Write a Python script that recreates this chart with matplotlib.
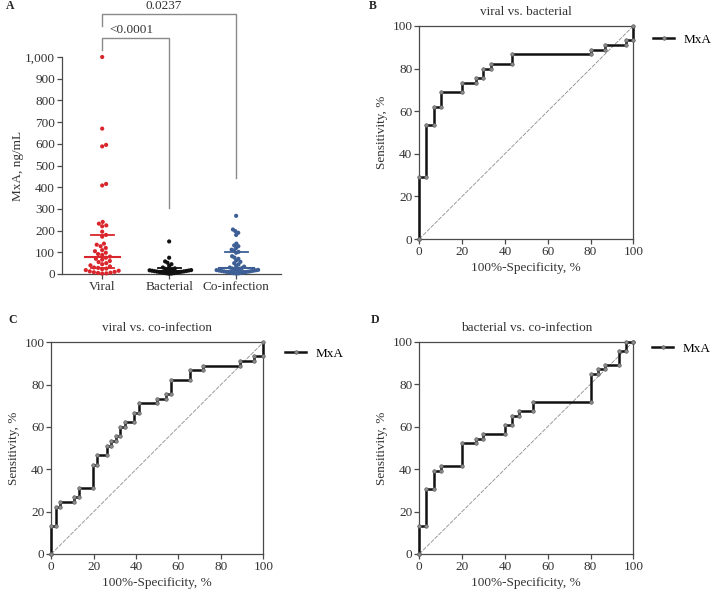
import numpy as np
import matplotlib
matplotlib.use("Agg")
import matplotlib.pyplot as plt
from matplotlib.ticker import FuncFormatter

plt.rcParams["font.family"] = ["Liberation Serif", "DejaVu Serif"]
plt.rcParams["font.size"] = 9.5

# ── panel A data (MxA, ng/mL) ────────────────────────────────────────────────
groups = ["Viral", "Bacterial", "Co-infection"]
group_colors = ["#d9262c", "#111111", "#3d5f96"]

viral = [1000, 670, 595, 588, 415, 408, 240, 232, 224, 220, 195,
         180, 172, 140, 135, 128, 120, 110, 105, 98, 92, 88,
         80, 75, 70, 66, 60, 55, 50, 45, 40, 35, 30, 28, 25, 22,
         18, 15, 12, 10, 8, 6, 5, 3, 2]
bacterial = [150, 75, 58, 52, 45, 38, 30, 26, 24, 22, 20, 19, 18, 17, 16,
             15, 14, 13, 12, 11, 10, 9, 8, 7, 6, 5, 4, 3, 2, 1]
coinfection = [268, 205, 198, 190, 180, 140, 132, 128, 120, 112, 108,
               102, 98, 82, 76, 70, 62, 56, 50, 44, 38, 34, 30, 27,
               25, 24, 22, 20, 19, 18, 17, 16, 15, 14, 13, 12, 11, 10,
               9, 8, 7, 6, 5, 4, 3, 2]

p_vals = ["0.0237", "<0.0001"]

# ── ROC data: x where the curve steps up, and sensitivity after the step ─────
roc_b_fpr = [0, 3.3, 6.7, 10, 20, 26.7, 30, 33.3, 43.3, 80, 86.7, 96.7, 100]
roc_b_tpr = [28.9, 53.3, 62.2, 68.9, 73.3, 75.6, 80.0, 82.2, 86.7, 88.9, 91.1, 93.3, 100]

roc_c_fpr = [0, 2.2, 4.3, 10.9, 13.0, 19.6, 21.7, 26.1, 28.3, 30.4, 32.6, 34.8,
             39.1, 41.3, 50.0, 54.3, 56.5, 65.2, 71.7, 89.1, 95.7, 100]
roc_c_tpr = [13.3, 22.2, 24.4, 26.7, 31.1, 42.2, 46.7, 51.1, 53.3, 55.6, 60.0, 62.2,
             66.7, 71.1, 73.3, 75.6, 82.2, 86.7, 88.9, 91.1, 93.3, 100]

roc_d_fpr = [0, 3.3, 6.7, 10, 20, 26.7, 30, 40, 43.3, 46.7, 53.3, 80, 83.3, 86.7,
             93.3, 96.7, 100]
roc_d_tpr = [13.0, 30.4, 39.1, 41.3, 52.2, 54.3, 56.5, 60.9, 65.2, 67.4, 71.7, 84.8,
             87.0, 89.1, 95.7, 100, 100]

roc_titles = ["viral vs. bacterial", "viral vs. co-infection", "bacterial vs. co-infection"]

AX_COL = "#4a4a4a"
TXT_COL = "#333333"


def swarm_offsets(vals, px_per_val, px_per_cat, d=4.2, max_px=22):
    """Beeswarm x offsets (category units); squeezed to stay within max_px."""
    order = np.argsort(vals)
    placed = []
    offs = np.zeros(len(vals))
    for i in order:
        y = vals[i] * px_per_val
        cands = [0.0]
        for (px, py) in placed:
            dy = y - py
            if abs(dy) < d:
                dx = np.sqrt(d * d - dy * dy)
                cands += [px + dx, px - dx]
        cands.sort(key=abs)
        for c in cands:
            if all((c - px) ** 2 + (y - py) ** 2 >= d * d - 1e-6 for px, py in placed):
                placed.append((c, y))
                offs[i] = c
                break
    widest = np.abs(offs).max()
    if widest > max_px:
        offs = offs * max_px / widest
    return offs / px_per_cat


def style_axis(ax):
    for s in ax.spines.values():
        s.set_color(AX_COL)
        s.set_linewidth(0.9)
    ax.tick_params(direction="out", length=3.5, width=0.9, color=AX_COL,
                   labelcolor=TXT_COL, labelsize=9.5, pad=1.5)


fig = plt.figure(figsize=(7.13, 5.94), dpi=100)

# ── panel A: scatter with median / IQR ───────────────────────────────────────
axA = fig.add_axes([62 / 713, 1 - 274 / 594, 219 / 713, 217 / 594])
axA.set_xlim(-0.6, 2.67)
axA.set_ylim(0, 1000)
px_val = 217 / 1000
px_cat = 67
for k, (vals, col) in enumerate(zip([viral, bacterial, coinfection], group_colors)):
    vals = np.array(vals, dtype=float)
    xo = swarm_offsets(vals, px_val, px_cat)
    axA.scatter(k + xo, vals, s=9, color=col, edgecolors="none", zorder=3, clip_on=False)
    q1, med, q3 = np.percentile(vals, [25, 50, 75])
    axA.plot([k - 0.26, k + 0.26], [med, med], color=col, lw=1.5, zorder=4)
    for q in (q1, q3):
        axA.plot([k - 0.17, k + 0.17], [q, q], color=col, lw=1.3, zorder=4)

for s in ("top", "right"):
    axA.spines[s].set_visible(False)
style_axis(axA)
axA.set_xticks(range(3))
axA.set_xticklabels(groups)
axA.set_yticks(np.arange(0, 1001, 100))
axA.yaxis.set_major_formatter(FuncFormatter(lambda v, p: f"{int(v):,}"))
axA.set_ylabel("MxA, ng/mL", color=TXT_COL, labelpad=1)

# significance brackets
br = dict(color="#8a8a8a", lw=1.0, clip_on=False)
axA.plot([0, 0, 2, 2], [1145, 1200, 1200, 443], **br)
axA.plot([0, 0, 1, 1], [1034, 1086, 1086, 305], **br)
axA.text(0.92, 1234, p_vals[0], ha="center", va="center", color=TXT_COL)
axA.text(0.43, 1126, p_vals[1], ha="center", va="center", color=TXT_COL)

# ── ROC panels ───────────────────────────────────────────────────────────────
roc_boxes = [
    [419.3 / 713, 1 - 239 / 594, 214 / 713, 213 / 594],
    [51.3 / 713, 1 - 554 / 594, 212 / 713, 211.7 / 594],
    [419.3 / 713, 1 - 554 / 594, 214 / 713, 212.3 / 594],
]
roc_data = [(roc_b_fpr, roc_b_tpr), (roc_c_fpr, roc_c_tpr), (roc_d_fpr, roc_d_tpr)]
legend_anchor = [(1.069, 0.99), (1.079, 1.0), (1.064, 1.02)]

for ax_box, (fpr, tpr), title, anc in zip(roc_boxes, roc_data, roc_titles, legend_anchor):
    ax = fig.add_axes(ax_box)
    xs, ys = [fpr[0]], [0.0]
    prev = 0.0
    for x, y in zip(fpr, tpr):
        xs += [x, x]
        ys += [prev, y]
        prev = y
    if xs[-1] < 100:
        xs.append(100)
        ys.append(prev)
    ax.plot([0, 100], [0, 100], color="#8c8c8c", lw=0.6, ls=(0, (5, 1.5)), zorder=1)
    ax.plot(xs, ys, color="#111111", lw=1.8, marker="o", ms=2.6,
            mfc="#8a8a8a", mec="#555555", mew=0.4, label="MxA", zorder=3, clip_on=False)
    ax.set_xlim(0, 100)
    ax.set_ylim(0, 100)
    ax.set_xticks(range(0, 101, 20))
    ax.set_yticks(range(0, 101, 20))
    style_axis(ax)
    ax.set_title(title, fontsize=9.5, color=TXT_COL, pad=8)
    ax.set_xlabel("100%-Specificity, %", color=TXT_COL, labelpad=3)
    ax.set_ylabel("Sensitivity, %", color=TXT_COL, labelpad=3)
    ax.legend(loc="upper left", bbox_to_anchor=anc, frameon=False, fontsize=9.5,
              handlelength=1.6, handletextpad=0.7, borderaxespad=0)

# panel letters
for lbl, x, y in [("A", 10, 6), ("B", 373, 6), ("C", 13, 320), ("D", 375, 320)]:
    fig.text(x / 713, 1 - y / 594, lbl, fontsize=8.5, fontweight="bold",
             ha="center", va="center", color="#222222")

fig.savefig("out.png", dpi=100)
